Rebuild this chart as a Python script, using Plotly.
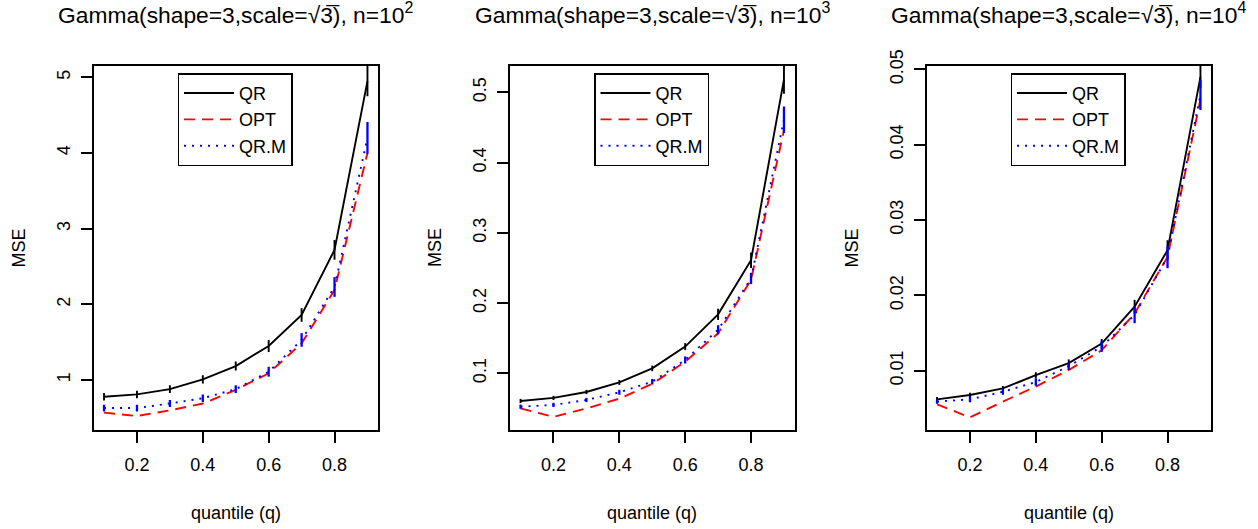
import plotly.graph_objects as go

W, H = 1258, 529

q = [0.1, 0.2, 0.3, 0.4, 0.5, 0.6, 0.7, 0.8, 0.9]
x_ticks = [0.2, 0.4, 0.6, 0.8]

titles = [
    "Gamma(shape=3,scale=√3\u0305), n=10<sup>2</sup>",
    "Gamma(shape=3,scale=√3\u0305), n=10<sup>3</sup>",
    "Gamma(shape=3,scale=√3\u0305), n=10<sup>4</sup>",
]

# n = 10^2
qr_1 = [0.78, 0.81, 0.88, 1.01, 1.185, 1.45, 1.86, 2.72, 4.95]
qr_err_1 = [0.05, 0.05, 0.05, 0.055, 0.06, 0.08, 0.09, 0.13, 0.20]
opt_1 = [0.57, 0.525, 0.60, 0.69, 0.87, 1.09, 1.485, 2.19, 4.0]
qrm_1 = [0.63, 0.63, 0.69, 0.76, 0.88, 1.11, 1.53, 2.23, 4.2]
qrm_err_1 = [0.045, 0.045, 0.045, 0.05, 0.05, 0.065, 0.09, 0.13, 0.21]
y_ticks_1 = [1, 2, 3, 4, 5]
y_range_1 = [0.34, 5.15]

# n = 10^3
qr_2 = [0.0606, 0.065, 0.0734, 0.087, 0.107, 0.138, 0.184, 0.261, 0.518]
qr_err_2 = [0.003, 0.003, 0.003, 0.0035, 0.004, 0.005, 0.008, 0.011, 0.02]
opt_2 = [0.050, 0.038, 0.050, 0.064, 0.085, 0.1165, 0.157, 0.233, 0.446]
qrm_2 = [0.0525, 0.055, 0.062, 0.073, 0.088, 0.119, 0.162, 0.235, 0.461]
qrm_err_2 = [0.003, 0.003, 0.003, 0.0035, 0.004, 0.005, 0.0065, 0.008, 0.019]
y_ticks_2 = [0.1, 0.2, 0.3, 0.4, 0.5]
y_range_2 = [0.0193, 0.5375]

# n = 10^4
qr_3 = [0.0062, 0.00677, 0.00766, 0.0094, 0.011, 0.0136, 0.0185, 0.026, 0.049]
qr_err_3 = [0.0003, 0.0003, 0.0003, 0.0004, 0.0005, 0.0006, 0.0009, 0.0013, 0.0015]
opt_3 = [0.00554, 0.0038, 0.0059, 0.0079, 0.0101, 0.0127, 0.0176, 0.0251, 0.046]
qrm_3 = [0.0059, 0.0062, 0.0072, 0.0085, 0.0106, 0.0132, 0.0174, 0.0251, 0.0466]
qrm_err_3 = [0.0003, 0.0004, 0.0004, 0.0005, 0.0005, 0.0007, 0.0011, 0.0015, 0.002]
y_ticks_3 = [0.01, 0.02, 0.03, 0.04, 0.05]
y_range_3 = [0.00213, 0.05044]

panels = [
    (qr_1, qr_err_1, opt_1, qrm_1, qrm_err_1, y_ticks_1, y_range_1),
    (qr_2, qr_err_2, opt_2, qrm_2, qrm_err_2, y_ticks_2, y_range_2),
    (qr_3, qr_err_3, opt_3, qrm_3, qrm_err_3, y_ticks_3, y_range_3),
]

FONT = "Liberation Sans, Arial, sans-serif"
box_lefts = [93.5, 510.0, 926.5]
box_w = 284.5
box_top, box_bot = 66.0, 430.0

fig = go.Figure()
layout = dict(
    width=W, height=H,
    margin=dict(l=0, r=0, t=0, b=0, pad=0, autoexpand=False),
    paper_bgcolor="white", plot_bgcolor="white",
    font=dict(family=FONT, size=18, color="black"),
    annotations=[],
)

for i, (qr, qre, opt, qrm, qrme, yt, yr) in enumerate(panels):
    k = "" if i == 0 else str(i + 1)
    xa, ya = "x" + k, "y" + k
    lg = "legend" + k
    fig.add_trace(go.Scatter(
        x=q, y=qr, mode="lines", name="QR", xaxis=xa, yaxis=ya, legend=lg,
        line=dict(color="black", width=1.9),
        error_y=dict(type="data", array=qre, visible=True, color="black",
                     thickness=1.9, width=0),
    ))
    fig.add_trace(go.Scatter(
        x=q, y=opt, mode="lines", name="OPT", xaxis=xa, yaxis=ya, legend=lg,
        line=dict(color="red", width=1.9, dash="11px,7px"),
    ))
    fig.add_trace(go.Scatter(
        x=q, y=qrm, mode="lines", name="QR.M", xaxis=xa, yaxis=ya, legend=lg,
        line=dict(color="blue", width=1.9, dash="2px,6px"),
        error_y=dict(type="data", array=qrme, visible=True, color="blue",
                     thickness=2.3, width=0),
    ))
    x0 = box_lefts[i] / W
    x1 = (box_lefts[i] + box_w) / W
    y0 = 1 - box_bot / H
    y1 = 1 - box_top / H
    axis_common = dict(
        showgrid=False, zeroline=False, showline=True, mirror=True,
        linecolor="black", linewidth=1.5, ticks="outside", ticklen=11,
        tickwidth=1.5, tickcolor="black", automargin=False,
        tickfont=dict(family=FONT, size=18, color="black"),
    )
    layout["xaxis" + k] = dict(
        axis_common, domain=[x0, x1], range=[0.068, 0.932],
        tickvals=x_ticks, ticktext=[str(v) for v in x_ticks],
        anchor=ya, ticklabelstandoff=7,
    )
    layout["yaxis" + k] = dict(
        axis_common, domain=[y0, y1], range=yr,
        tickvals=yt, ticktext=[str(v) for v in yt],
        anchor=xa, tickangle=-90, ticklabelstandoff=4,
    )
    layout[lg] = dict(
        x=(box_lefts[i] + 84) / W, y=1 - 73.3 / H,
        xanchor="left", yanchor="top",
        bordercolor="black", borderwidth=1.5, bgcolor="white",
        font=dict(family=FONT, size=18, color="black"),
        tracegroupgap=0, itemwidth=50,
    )
    cx = (box_lefts[i] + box_w / 2) / W
    layout["annotations"].append(dict(
        text=titles[i], x=cx, y=1 - 30 / H, xref="paper", yref="paper",
        xanchor="center", yanchor="bottom", showarrow=False,
        font=dict(family=FONT, size=22.8, color="black"),
    ))
    layout["annotations"].append(dict(
        text="MSE", x=(box_lefts[i] - 75) / W, y=1 - 248 / H,
        xref="paper", yref="paper", xanchor="center", yanchor="middle",
        textangle=-90, showarrow=False,
        font=dict(family=FONT, size=18, color="black"),
    ))
    layout["annotations"].append(dict(
        text="quantile (q)", x=cx, y=1 - 513 / H,
        xref="paper", yref="paper", xanchor="center", yanchor="middle",
        showarrow=False, font=dict(family=FONT, size=18, color="black"),
    ))

fig.update_layout(**layout)
fig.write_html("out.html")
